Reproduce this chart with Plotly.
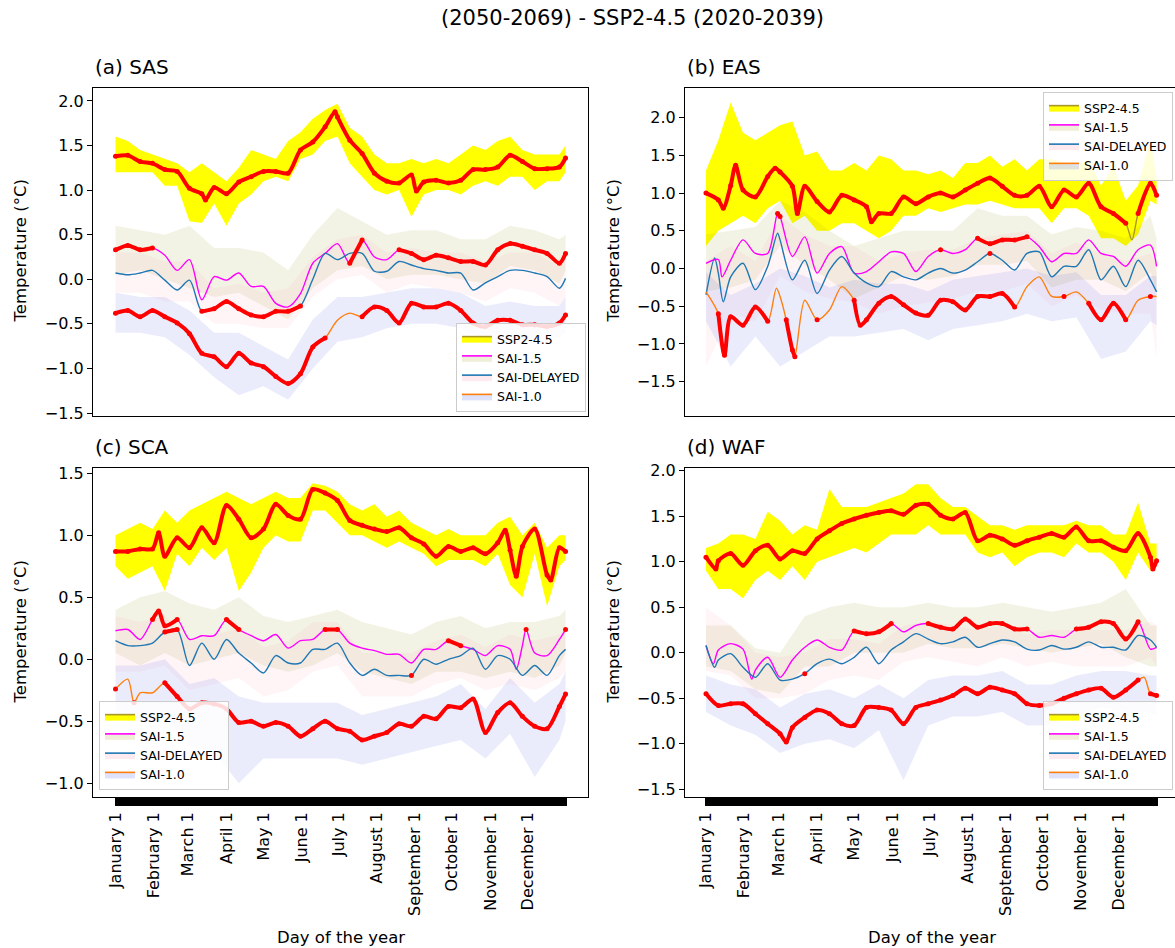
import plotly.graph_objects as go

W, H = 1175, 948

# ---------------- shared categories / labels ----------------
DAYS = list(range(0, 361, 10)) + [365]
BAND_DAYS = list(range(0, 361, 20)) + [365]

MONTH_DAYS = [0, 31, 59, 90, 120, 151, 181, 212, 243, 273, 304, 334]
MONTH_LABELS = ["January 1", "February 1", "March 1", "April 1", "May 1", "June 1",
                "July 1", "August 1", "September 1", "October 1", "November 1", "December 1"]

SERIES_NAMES = ["SSP2-4.5", "SAI-1.5", "SAI-DELAYED", "SAI-1.0"]
PANEL_TITLES = ["(a) SAS", "(b) EAS", "(c) SCA", "(d) WAF"]
SUPTITLE = "(2050-2069) - SSP2-4.5 (2020-2039)"
Y_TITLE = "Temperature (°C)"
X_TITLE = "Day of the year"

# ---------------- (a) SAS ----------------
SAS_SSP_X = [0, 10, 20, 30, 40, 50, 60, 70, 73, 80, 90, 100, 110, 120, 130, 140, 150, 160, 170, 178,
             180, 190, 200, 210, 220, 230, 240, 244, 250, 260, 270, 280, 290, 300, 310, 320, 330, 340,
             350, 360, 365]
SAS_SSP_Y = [1.38, 1.39, 1.32, 1.30, 1.23, 1.21, 1.02, 0.96, 0.89, 1.03, 0.96, 1.09, 1.15, 1.21, 1.21,
             1.19, 1.45, 1.54, 1.71, 1.88, 1.82, 1.56, 1.41, 1.19, 1.10, 1.08, 1.17, 0.99, 1.09, 1.11,
             1.08, 1.11, 1.23, 1.23, 1.26, 1.39, 1.32, 1.24, 1.24, 1.26, 1.36]
SAS_SSP_LO = [1.20, 1.20, 1.20, 1.20, 1.05, 1.05, 0.65, 0.63, 0.85, 0.60, 0.85, 0.95, 1.10, 1.15, 1.10,
              1.35, 1.40, 1.55, 1.60, 1.30, 1.15, 1.00, 0.95, 1.00, 0.70, 0.95, 1.00, 1.00, 0.95, 1.05,
              1.10, 1.05, 1.15, 1.15, 1.00, 1.10, 1.10, 1.20]
SAS_SSP_HI = [1.60, 1.55, 1.45, 1.40, 1.35, 1.30, 1.20, 1.30, 1.20, 1.10, 1.25, 1.45, 1.40, 1.35, 1.55,
              1.65, 1.80, 1.90, 1.97, 1.70, 1.60, 1.40, 1.30, 1.30, 1.35, 1.30, 1.35, 1.30, 1.40, 1.50,
              1.45, 1.55, 1.60, 1.45, 1.40, 1.40, 1.40, 1.50]
SAS_S15 = [0.33, 0.38, 0.33, 0.35, 0.27, 0.10, 0.22, -0.23, 0.03, -0.01, 0.07, -0.08, -0.08, -0.27,
           -0.31, -0.16, 0.18, 0.29, 0.40, 0.18, 0.44, 0.25, 0.22, 0.33, 0.29, 0.22, 0.27, 0.24, 0.20,
           0.20, 0.16, 0.33, 0.40, 0.37, 0.33, 0.29, 0.18, 0.29]
SAS_DEL = [0.07, 0.05, 0.07, 0.10, -0.01, -0.12, -0.01, -0.36, -0.33, -0.25, -0.33, -0.40, -0.42,
           -0.36, -0.36, -0.30, 0.00, 0.29, 0.22, 0.29, 0.29, 0.09, 0.09, 0.20, 0.16, 0.12, 0.10, 0.07,
           0.07, -0.12, -0.04, 0.03, 0.10, 0.10, 0.07, 0.03, -0.10, 0.01]
SAS_S10 = [-0.38, -0.35, -0.42, -0.35, -0.42, -0.49, -0.61, -0.83, -0.87, -0.98, -0.83, -0.94, -0.98,
           -1.09, -1.17, -1.06, -0.76, -0.66, -0.46, -0.38, -0.42, -0.31, -0.35, -0.49, -0.27, -0.31,
           -0.31, -0.27, -0.35, -0.49, -0.53, -0.46, -0.46, -0.51, -0.51, -0.53, -0.49, -0.40]
SAS_S15_HI = [0.6, 0.55, 0.5, 0.6, 0.35, 0.35, 0.3, 0.1, 0.5, 0.8, 0.65, 0.5, 0.55, 0.55, 0.45, 0.45, 0.6, 0.55, 0.45, 0.5]
SAS_S15_LO = [0.05, 0.1, 0.0, -0.1, -0.2, -0.15, -0.3, -0.45, -0.1, 0.1, 0.15, 0.0, 0.05, 0.05, 0.0, -0.05, 0.15, 0.1, -0.05, 0.1]
SAS_DEL_HI = [0.3, 0.3, 0.2, 0.2, -0.1, -0.05, -0.15, -0.1, 0.25, 0.45, 0.5, 0.3, 0.35, 0.3, 0.3, 0.2, 0.3, 0.3, 0.15, 0.25]
SAS_DEL_LO = [-0.15, -0.15, -0.25, -0.25, -0.5, -0.5, -0.55, -0.55, -0.2, 0.0, 0.05, -0.15, -0.05, -0.1, -0.15, -0.25, -0.1, -0.15, -0.3, -0.2]
SAS_S10_HI = [-0.15, -0.2, -0.2, -0.35, -0.6, -0.6, -0.75, -0.9, -0.45, -0.2, -0.2, -0.15, -0.1, -0.1, -0.15, -0.3, -0.25, -0.3, -0.3, -0.2]
SAS_S10_LO = [-0.6, -0.6, -0.65, -0.85, -1.1, -1.3, -1.2, -1.35, -1.0, -0.7, -0.65, -0.55, -0.5, -0.5, -0.55, -0.7, -0.65, -0.7, -0.65, -0.6]
SAS_SSP_SIG = [[0, 365]]
SAS_S15_SIG = [[0, 35], [185, 205], [225, 280], [290, 365]]
SAS_DEL_SIG = [[3, 8], [65, 155]]
SAS_S10_SIG = [[0, 176], [198, 365]]

# ---------------- (b) EAS ----------------
EAS_SSP_X = [0, 10, 14, 20, 24, 30, 40, 50, 56, 60, 70, 74, 80, 90, 100, 110, 120, 130, 134, 140, 150,
             160, 170, 180, 190, 200, 210, 220, 230, 240, 250, 260, 270, 280, 290, 300, 310, 320, 330,
             340, 345, 350, 360, 365]
EAS_SSP_Y = [1.00, 0.91, 0.80, 1.10, 1.37, 1.04, 0.95, 1.22, 1.33, 1.28, 1.09, 0.73, 1.09, 0.89, 0.75,
             0.97, 0.91, 0.82, 0.62, 0.73, 0.73, 0.95, 0.86, 0.95, 1.00, 0.95, 1.04, 1.13, 1.20, 1.09,
             0.97, 0.97, 1.09, 0.82, 1.04, 0.95, 1.13, 0.82, 0.73, 0.60, 0.38, 0.73, 1.13, 0.97]
EAS_SSP_LO = [0.3, 0.5, 0.6, 0.7, 0.6, 0.8, 0.9, 0.6, 0.7, 0.5, 0.5, 0.6, 0.6, 0.5, 0.4, 0.5, 0.7, 0.7,
              0.8, 0.75, 0.8, 0.85, 0.85, 0.9, 0.85, 0.8, 0.8, 0.8, 0.6, 0.8, 0.8, 0.7, 0.4, 0.4, 0.3,
              0.45, 0.9, 0.85]
EAS_SSP_HI = [1.3, 1.7, 2.2, 1.8, 1.7, 1.8, 1.9, 1.95, 1.5, 1.55, 1.3, 1.3, 1.4, 1.3, 1.5, 1.45, 1.3,
              1.3, 1.25, 1.3, 1.2, 1.4, 1.4, 1.5, 1.35, 1.45, 1.3, 1.45, 1.45, 1.4, 1.35, 1.45, 1.1,
              1.35, 0.9, 1.1, 1.7, 1.2]
EAS_S15_X = [0, 10, 13, 20, 30, 40, 50, 58, 60, 70, 80, 90, 100, 110, 120, 130, 140, 150, 160, 170, 180,
             190, 200, 210, 220, 230, 240, 250, 260, 270, 280, 290, 300, 310, 320, 330, 340, 350, 360, 365]
EAS_S15_Y = [0.07, 0.12, -0.11, 0.11, 0.38, 0.20, 0.20, 0.73, 0.69, 0.16, 0.42, -0.06, 0.20, 0.29, -0.06,
             -0.04, 0.09, 0.22, 0.20, -0.04, 0.16, 0.25, 0.20, 0.25, 0.40, 0.33, 0.38, 0.38, 0.42, 0.29,
             0.09, 0.20, 0.20, 0.38, 0.20, 0.16, 0.03, 0.25, 0.31, 0.03]
EAS_DEL_X = [0, 7, 10, 14, 20, 30, 40, 50, 58, 60, 70, 80, 90, 100, 110, 120, 130, 140, 150, 160, 170,
             180, 190, 200, 210, 220, 230, 240, 250, 260, 270, 280, 290, 300, 310, 320, 330, 340, 350,
             360, 365]
EAS_DEL_Y = [-0.35, 0.14, -0.06, -0.44, -0.11, 0.07, -0.28, 0.03, 0.47, 0.38, -0.15, 0.11, -0.33, -0.02,
             0.16, -0.06, -0.19, -0.24, -0.04, -0.11, -0.15, -0.06, 0.00, -0.06, -0.02, 0.09, 0.20, 0.11,
             -0.02, 0.20, 0.22, -0.11, 0.03, 0.03, 0.25, -0.15, 0.03, -0.24, 0.11, -0.15, -0.31]
EAS_S10_X = [0, 10, 15, 20, 30, 40, 50, 57, 60, 65, 70, 72, 80, 90, 100, 110, 120, 125, 130, 140, 150,
             160, 170, 180, 190, 200, 210, 220, 230, 240, 250, 260, 270, 280, 290, 300, 310, 320, 330,
             340, 350, 360, 365]
EAS_S10_Y = [-0.31, -0.60, -1.15, -0.64, -0.75, -0.51, -0.70, -0.26, -0.37, -0.68, -1.08, -1.17, -0.42,
             -0.68, -0.55, -0.24, -0.42, -0.75, -0.68, -0.46, -0.37, -0.48, -0.59, -0.62, -0.42, -0.44,
             -0.55, -0.37, -0.37, -0.33, -0.51, -0.24, -0.11, -0.37, -0.37, -0.31, -0.46, -0.68, -0.46,
             -0.68, -0.42, -0.37, -0.37]
EAS_S15_HI = [0.45, 0.5, 0.55, 0.9, 0.75, 0.5, 0.3, 0.4, 0.5, 0.5, 0.5, 0.8, 0.7, 0.7, 0.45, 0.55, 0.5, 0.4, 0.7, 0.4]
EAS_S15_LO = [-0.3, -0.25, -0.15, 0.3, 0.05, -0.15, -0.4, -0.25, -0.1, -0.15, -0.1, 0.05, 0.05, 0.1, -0.25, -0.15, -0.15, -0.3, -0.05, -0.3]
EAS_DEL_HI = [0.1, 0.3, 0.1, 0.7, 0.45, 0.3, 0.3, 0.1, 0.2, 0.25, 0.25, 0.4, 0.45, 0.5, 0.2, 0.35, 0.2, 0.1, 0.2, 0.05]
EAS_DEL_LO = [-1.3, -0.6, -0.7, -0.1, -0.3, -0.4, -0.45, -0.6, -0.5, -0.45, -0.4, -0.3, -0.3, -0.2, -0.5, -0.35, -0.55, -0.6, -0.6, -1.2]
EAS_S10_HI = [-0.05, -0.35, -0.2, 0.0, -0.1, -0.25, -0.15, -0.2, -0.2, -0.3, -0.15, -0.1, -0.05, 0.0, -0.1, -0.05, -0.35, -0.35, -0.1, -0.1]
EAS_S10_LO = [-0.7, -1.3, -0.9, -1.3, -1.1, -0.9, -0.9, -0.85, -0.8, -0.95, -0.8, -0.75, -0.7, -0.6, -0.7, -0.65, -1.2, -1.1, -0.7, -0.75]
EAS_SSP_SIG = [[0, 340], [350, 365]]
EAS_S15_SIG = [[55, 63], [182, 192], [217, 260]]
EAS_DEL_SIG = [[228, 236]]
EAS_S10_SIG = [[10, 24], [28, 50], [64, 78], [88, 92], [120, 240], [247, 252], [282, 290], [310, 322],
               [328, 340], [352, 362]]

# ---------------- (c) SCA ----------------
SCA_SSP_X = [0, 10, 20, 30, 35, 40, 50, 60, 70, 80, 90, 100, 110, 120, 130, 140, 150, 160, 170, 180, 190,
             200, 210, 220, 230, 240, 250, 260, 270, 280, 290, 300, 310, 316, 320, 325, 330, 340, 350,
             353, 360, 365]
SCA_SSP_Y = [0.87, 0.87, 0.89, 0.89, 1.02, 0.83, 0.98, 0.90, 1.06, 0.94, 1.24, 1.13, 0.98, 1.05, 1.25,
             1.16, 1.13, 1.37, 1.34, 1.28, 1.12, 1.08, 1.05, 1.03, 1.06, 0.98, 0.93, 0.83, 0.91, 0.87,
             0.90, 0.85, 0.94, 1.04, 0.88, 0.67, 0.91, 1.05, 0.68, 0.64, 0.90, 0.87]
SCA_SSP_LO = [0.75, 0.65, 0.70, 0.75, 0.55, 0.85, 0.75, 0.90, 0.80, 0.90, 0.55, 0.70, 0.90, 1.00, 0.95,
              0.95, 1.20, 1.20, 1.10, 1.00, 1.00, 0.95, 0.90, 0.95, 0.90, 0.85, 0.75, 0.80, 0.80, 0.80,
              0.75, 0.85, 0.60, 0.50, 0.85, 0.43, 0.75, 0.80]
SCA_SSP_HI = [1.00, 1.05, 1.10, 1.05, 1.20, 1.10, 1.20, 1.25, 1.30, 1.35, 1.30, 1.25, 1.30, 1.35, 1.30,
              1.30, 1.42, 1.40, 1.35, 1.25, 1.20, 1.25, 1.15, 1.20, 1.10, 1.05, 1.00, 1.05, 1.00, 1.00,
              1.00, 1.10, 1.15, 1.00, 1.10, 0.90, 1.00, 1.00]
SCA_S15_X = [0, 10, 20, 30, 35, 40, 50, 60, 70, 80, 90, 100, 110, 120, 130, 140, 150, 160, 170, 180, 190,
             200, 210, 220, 230, 240, 250, 260, 270, 280, 290, 300, 310, 320, 325, 330, 333, 340, 350,
             360, 365]
SCA_S15_Y = [0.23, 0.24, 0.16, 0.32, 0.39, 0.27, 0.32, 0.16, 0.19, 0.19, 0.32, 0.24, 0.19, 0.15, 0.20,
             0.09, 0.15, 0.16, 0.24, 0.24, 0.13, 0.09, 0.07, 0.04, 0.04, -0.03, 0.08, 0.08, 0.15, 0.11,
             0.08, 0.03, 0.11, 0.08, -0.08, 0.11, 0.24, 0.05, 0.03, 0.16, 0.24]
SCA_DEL = [0.15, 0.11, 0.11, 0.13, 0.22, 0.24, -0.05, 0.13, 0.00, 0.16, 0.05, -0.03, -0.11, 0.03, -0.03,
           -0.03, 0.08, 0.08, 0.13, -0.03, -0.13, -0.08, -0.13, -0.13, -0.13, 0.00, -0.04, 0.00, 0.03,
           0.09, -0.08, 0.03, 0.00, -0.13, -0.05, -0.13, 0.03, 0.08]
SCA_S10_X = [0, 10, 15, 20, 30, 40, 50, 60, 70, 80, 90, 100, 110, 120, 130, 140, 150, 160, 170, 180, 190,
             200, 210, 220, 230, 240, 250, 260, 270, 280, 290, 300, 310, 320, 330, 340, 350, 360, 365]
SCA_S10_Y = [-0.24, -0.16, -0.35, -0.27, -0.27, -0.19, -0.30, -0.40, -0.35, -0.36, -0.40, -0.51, -0.50,
             -0.54, -0.51, -0.54, -0.62, -0.56, -0.50, -0.56, -0.58, -0.65, -0.62, -0.59, -0.52, -0.54,
             -0.46, -0.48, -0.38, -0.39, -0.32, -0.59, -0.43, -0.35, -0.46, -0.54, -0.56, -0.38, -0.28]
SCA_S15_HI = [0.4, 0.5, 0.55, 0.45, 0.4, 0.5, 0.35, 0.3, 0.35, 0.4, 0.3, 0.25, 0.2, 0.3, 0.35, 0.25, 0.3, 0.3, 0.35, 0.4]
SCA_S15_LO = [0.05, -0.05, 0.05, -0.05, 0.0, 0.05, -0.05, -0.1, -0.05, 0.05, -0.1, -0.15, -0.2, -0.1, -0.1, -0.15, -0.1, -0.15, -0.05, 0.05]
SCA_DEL_HI = [0.35, 0.3, 0.35, 0.15, 0.2, 0.25, 0.1, 0.15, 0.3, 0.3, 0.05, 0.05, 0.05, 0.15, 0.2, 0.1, 0.2, 0.15, 0.2, 0.25]
SCA_DEL_LO = [-0.1, -0.1, -0.05, -0.25, -0.2, -0.15, -0.3, -0.25, -0.1, -0.05, -0.3, -0.3, -0.3, -0.2, -0.15, -0.25, -0.2, -0.25, -0.15, -0.1]
SCA_S10_HI = [-0.05, -0.05, 0.0, -0.2, -0.15, -0.3, -0.35, -0.35, -0.35, -0.35, -0.45, -0.4, -0.35, -0.3, -0.2, -0.4, -0.15, -0.35, -0.2, -0.1]
SCA_S10_LO = [-0.45, -0.5, -0.45, -0.7, -0.75, -1.0, -0.8, -0.8, -0.8, -0.8, -0.85, -0.8, -0.75, -0.7, -0.65, -0.8, -0.6, -0.95, -0.65, -0.5]
SCA_SSP_SIG = [[0, 365]]
SCA_S15_SIG = [[24, 55], [85, 91], [100, 107], [163, 180], [264, 270], [278, 282], [331, 336], [362, 365]]
SCA_DEL_SIG = [[35, 52], [238, 242]]
SCA_S10_SIG = [[0, 6], [13, 18], [40, 44], [48, 352], [358, 365]]

# ---------------- (d) WAF ----------------
WAF_SSP_X = [0, 8, 10, 20, 30, 40, 50, 60, 70, 80, 90, 100, 110, 120, 130, 140, 150, 160, 170, 180, 190,
             200, 210, 220, 230, 240, 250, 260, 270, 280, 290, 300, 310, 320, 330, 340, 350, 360, 362, 365]
WAF_SSP_Y = [1.05, 0.92, 1.01, 1.09, 0.96, 1.12, 1.18, 1.03, 1.12, 1.09, 1.25, 1.34, 1.42, 1.47, 1.51,
             1.54, 1.56, 1.52, 1.62, 1.63, 1.51, 1.47, 1.54, 1.23, 1.29, 1.25, 1.18, 1.23, 1.27, 1.31,
             1.27, 1.38, 1.23, 1.23, 1.16, 1.12, 1.31, 1.05, 0.92, 1.01]
WAF_SSP_LO = [0.90, 0.70, 0.70, 0.60, 0.80, 0.90, 0.80, 0.95, 0.80, 1.00, 1.05, 1.10, 1.15, 1.10, 1.20,
              1.30, 1.30, 1.30, 1.40, 1.30, 1.30, 1.30, 1.10, 1.05, 1.10, 0.95, 1.05, 1.10, 1.10, 1.05,
              1.20, 1.10, 1.10, 1.00, 0.80, 1.10, 0.90, 0.95]
WAF_SSP_HI = [1.15, 1.20, 1.30, 1.30, 1.25, 1.55, 1.45, 1.30, 1.40, 1.35, 1.80, 1.60, 1.60, 1.60, 1.65,
              1.70, 1.75, 1.85, 1.85, 1.70, 1.60, 1.60, 1.50, 1.40, 1.40, 1.35, 1.40, 1.40, 1.40, 1.40,
              1.45, 1.40, 1.40, 1.30, 1.30, 1.65, 1.20, 1.20]
WAF_S15_X = [0, 6, 10, 20, 30, 37, 40, 50, 60, 70, 80, 90, 100, 110, 120, 130, 140, 150, 160, 170, 180,
             190, 200, 210, 220, 230, 240, 250, 260, 270, 280, 290, 300, 310, 320, 330, 340, 350, 360, 365]
WAF_S15_Y = [0.08, -0.12, 0.03, 0.10, 0.04, -0.29, -0.19, -0.05, -0.27, -0.08, 0.06, 0.14, 0.06, 0.03,
             0.24, 0.21, 0.23, 0.32, 0.23, 0.30, 0.32, 0.28, 0.26, 0.37, 0.28, 0.32, 0.32, 0.26, 0.26,
             0.17, 0.19, 0.17, 0.26, 0.28, 0.34, 0.32, 0.15, 0.34, 0.04, 0.06]
WAF_DEL_X = [0, 7, 10, 20, 30, 40, 50, 60, 70, 80, 90, 100, 110, 120, 130, 140, 150, 160, 170, 180, 190,
             200, 210, 220, 230, 240, 250, 260, 270, 280, 290, 300, 310, 320, 330, 340, 350, 360, 365]
WAF_DEL_Y = [0.08, -0.16, -0.08, -0.01, -0.16, -0.27, -0.12, -0.30, -0.29, -0.23, -0.12, -0.07, -0.12,
             -0.05, 0.06, -0.12, 0.03, 0.12, 0.21, 0.15, 0.10, 0.12, 0.17, 0.06, 0.10, 0.14, 0.12, 0.04,
             0.03, 0.08, 0.04, 0.06, 0.12, 0.06, 0.06, 0.03, 0.19, 0.14, 0.06]
WAF_S10_X = [0, 10, 20, 30, 40, 50, 60, 65, 70, 80, 90, 100, 110, 120, 130, 140, 150, 160, 170, 180, 190,
             200, 210, 220, 230, 240, 250, 260, 270, 280, 290, 300, 310, 320, 330, 340, 350, 355, 360, 365]
WAF_S10_Y = [-0.45, -0.58, -0.56, -0.56, -0.67, -0.78, -0.89, -0.98, -0.82, -0.71, -0.63, -0.67, -0.78,
             -0.80, -0.60, -0.60, -0.63, -0.78, -0.60, -0.56, -0.52, -0.47, -0.39, -0.45, -0.38, -0.41,
             -0.45, -0.56, -0.58, -0.56, -0.50, -0.45, -0.41, -0.39, -0.49, -0.41, -0.30, -0.27, -0.45,
             -0.47]
WAF_S15_HI = [0.3, 0.3, 0.05, 0.0, 0.4, 0.5, 0.55, 0.5, 0.5, 0.55, 0.5, 0.5, 0.55, 0.5, 0.45, 0.5, 0.55, 0.7, 0.3, 0.3]
WAF_S15_LO = [-0.15, -0.2, -0.4, -0.45, -0.15, -0.15, 0.0, 0.0, 0.0, 0.1, 0.05, 0.05, 0.1, 0.05, 0.0, 0.05, 0.1, -0.05, -0.15, -0.15]
WAF_DEL_HI = [0.5, 0.3, 0.0, -0.05, 0.0, 0.15, 0.15, 0.1, 0.3, 0.35, 0.3, 0.25, 0.3, 0.2, 0.25, 0.25, 0.25, 0.25, 0.35, 0.3]
WAF_DEL_LO = [-0.2, -0.25, -0.5, -0.5, -0.45, -0.3, -0.25, -0.3, -0.1, -0.05, -0.1, -0.15, -0.05, -0.15, -0.1, -0.15, -0.15, -0.15, -0.05, -0.15]
WAF_S10_HI = [-0.25, -0.35, -0.4, -0.6, -0.45, -0.4, -0.5, -0.35, -0.5, -0.3, -0.25, -0.25, -0.2, -0.35, -0.35, -0.25, -0.2, -0.2, -0.25, -0.25]
WAF_S10_LO = [-0.65, -0.8, -0.9, -1.1, -1.0, -0.95, -1.05, -0.85, -1.4, -0.8, -0.7, -0.7, -0.65, -0.8, -0.8, -0.7, -0.6, -0.65, -0.65, -0.7]
WAF_SSP_SIG = [[0, 365]]
WAF_S15_SIG = [[119, 131], [138, 152], [175, 262], [293, 358]]
WAF_DEL_SIG = [[75, 80], [135, 138], [243, 247]]
WAF_S10_SIG = [[0, 352], [360, 365]]

PANELS = [
    dict(ssp=(SAS_SSP_X, SAS_SSP_Y, SAS_SSP_SIG), s15=(DAYS, SAS_S15, SAS_S15_SIG),
         dl=(DAYS, SAS_DEL, SAS_DEL_SIG), s10=(DAYS, SAS_S10, SAS_S10_SIG),
         ssp_band=(SAS_SSP_LO, SAS_SSP_HI), s15_band=(SAS_S15_LO, SAS_S15_HI),
         dl_band=(SAS_DEL_LO, SAS_DEL_HI), s10_band=(SAS_S10_LO, SAS_S10_HI)),
    dict(ssp=(EAS_SSP_X, EAS_SSP_Y, EAS_SSP_SIG), s15=(EAS_S15_X, EAS_S15_Y, EAS_S15_SIG),
         dl=(EAS_DEL_X, EAS_DEL_Y, EAS_DEL_SIG), s10=(EAS_S10_X, EAS_S10_Y, EAS_S10_SIG),
         ssp_band=(EAS_SSP_LO, EAS_SSP_HI), s15_band=(EAS_S15_LO, EAS_S15_HI),
         dl_band=(EAS_DEL_LO, EAS_DEL_HI), s10_band=(EAS_S10_LO, EAS_S10_HI)),
    dict(ssp=(SCA_SSP_X, SCA_SSP_Y, SCA_SSP_SIG), s15=(SCA_S15_X, SCA_S15_Y, SCA_S15_SIG),
         dl=(DAYS, SCA_DEL, SCA_DEL_SIG), s10=(SCA_S10_X, SCA_S10_Y, SCA_S10_SIG),
         ssp_band=(SCA_SSP_LO, SCA_SSP_HI), s15_band=(SCA_S15_LO, SCA_S15_HI),
         dl_band=(SCA_DEL_LO, SCA_DEL_HI), s10_band=(SCA_S10_LO, SCA_S10_HI)),
    dict(ssp=(WAF_SSP_X, WAF_SSP_Y, WAF_SSP_SIG), s15=(WAF_S15_X, WAF_S15_Y, WAF_S15_SIG),
         dl=(WAF_DEL_X, WAF_DEL_Y, WAF_DEL_SIG), s10=(WAF_S10_X, WAF_S10_Y, WAF_S10_SIG),
         ssp_band=(WAF_SSP_LO, WAF_SSP_HI), s15_band=(WAF_S15_LO, WAF_S15_HI),
         dl_band=(WAF_DEL_LO, WAF_DEL_HI), s10_band=(WAF_S10_LO, WAF_S10_HI)),
]

# ---------------- styles ----------------
KEYS = ["ssp", "s15", "dl", "s10"]
LINE_COLORS = {"ssp": "#a8962a", "s15": "#ff00ff", "dl": "#1f77b4", "s10": "#ff7f0e"}
BAND_FILL = {"ssp": "#ffff00", "s15": "rgba(150,150,20,0.11)",
             "dl": "rgba(255,110,140,0.07)", "s10": "rgba(90,110,230,0.13)"}
LEGEND_FILL = {"ssp": "#ffff00", "s15": "rgba(150,150,20,0.16)",
               "dl": "rgba(255,110,140,0.14)", "s10": "rgba(90,110,230,0.20)"}
RED = "#ff0000"
FONT = "DejaVu Sans"

LEFT_DOM = [93 / W, 588 / W]
RIGHT_DOM = [685 / W, 1.0]
TOP_DOM = [1 - 415.5 / H, 1 - 87.5 / H]
BOT_DOM = [1 - 796.7 / H, 1 - 468.3 / H]
XR_LEFT = [-18.25, 383.2]
XR_RIGHT = [-17.0, 379.9]
YRANGES = [[-1.528, 2.151], [-1.948, 2.400], [-1.108, 1.540], [-1.581, 2.026]]


def sig_mask(xs, ranges):
    return [any(a <= d <= b for a, b in ranges) for d in xs]


fig = go.Figure()
for k, p in enumerate(PANELS):
    s = "" if k == 0 else str(k + 1)
    xr, yr = "x" + s, "y" + s
    leg = "legend" + s
    # shaded spread bands
    for key in KEYS:
        bx = DAYS if key == "ssp" else BAND_DAYS
        lo, hi = p[key + "_band"]
        assert len(lo) == len(bx) and len(hi) == len(bx), (k, key)
        fig.add_trace(go.Scatter(x=list(bx) + list(bx)[::-1], y=list(hi) + list(lo)[::-1],
                                 mode="lines", fill="toself", fillcolor=BAND_FILL[key],
                                 line=dict(width=0), hoverinfo="skip", showlegend=False,
                                 xaxis=xr, yaxis=yr))
    # mean lines
    for key in KEYS:
        xs, ys, _ = p[key]
        assert len(xs) == len(ys), (k, key, len(xs), len(ys))
        fig.add_trace(go.Scatter(x=xs, y=ys, mode="lines",
                                 line=dict(color=LINE_COLORS[key], width=1.4, shape="spline", smoothing=0.8),
                                 hoverinfo="skip", showlegend=False, xaxis=xr, yaxis=yr))
    # significant parts (red dots)
    for key in KEYS:
        xs, ys, sig = p[key]
        m = sig_mask(xs, sig)
        ysig = [y if f else None for y, f in zip(ys, m)]
        fig.add_trace(go.Scatter(x=xs, y=ysig, mode="lines+markers", connectgaps=False,
                                 line=dict(color=RED, width=4, shape="spline", smoothing=0.8),
                                 marker=dict(color=RED, size=5),
                                 hoverinfo="skip", showlegend=False, xaxis=xr, yaxis=yr))
    # legend entries
    for j, key in enumerate(KEYS):
        fig.add_trace(go.Scatter(x=[None], y=[None], mode="lines", fill="toself",
                                 fillcolor=LEGEND_FILL[key],
                                 line=dict(color=LINE_COLORS[key], width=1.6),
                                 name=SERIES_NAMES[j], legend=leg, showlegend=True,
                                 xaxis=xr, yaxis=yr))

tick_vals = list(range(0, 366))
tick_text = [MONTH_LABELS[MONTH_DAYS.index(d)] if d in MONTH_DAYS else "" for d in tick_vals]

layout = dict(width=W, height=H, margin=dict(l=0, r=0, t=0, b=0),
              paper_bgcolor="white", plot_bgcolor="white",
              font=dict(family=FONT, color="black", size=16))
for k in range(4):
    s = "" if k == 0 else str(k + 1)
    left = k in (0, 2)
    bottom = k in (2, 3)
    xa = dict(domain=LEFT_DOM if left else RIGHT_DOM, range=XR_LEFT if left else XR_RIGHT,
              anchor="y" + s, showline=True, linecolor="black", linewidth=1.2, mirror=True,
              showgrid=False, zeroline=False, automargin=False)
    if bottom:
        xa.update(tickmode="array", tickvals=tick_vals, ticktext=tick_text, ticks="outside",
                  ticklen=8, tickwidth=2.2, tickcolor="black", tickangle=-90,
                  tickfont=dict(size=16, family=FONT, color="black"))
    else:
        xa.update(showticklabels=False, ticks="")
    ya = dict(domain=TOP_DOM if k < 2 else BOT_DOM, range=YRANGES[k], anchor="x" + s,
              showline=True, linecolor="black", linewidth=1.2, mirror=left,
              ticks="outside", ticklen=5, tickwidth=1.2, tickcolor="black",
              tick0=0, dtick=0.5, tickformat=".1f",
              tickfont=dict(size=16, family=FONT, color="black"),
              showgrid=False, zeroline=False, automargin=False)
    layout["xaxis" + s] = xa
    layout["yaxis" + s] = ya

leg_common = dict(bgcolor="rgba(255,255,255,0.85)", bordercolor="#cccccc", borderwidth=1,
                  font=dict(size=12.5, family=FONT, color="black"), itemwidth=30,
                  tracegroupgap=0, xref="paper", yref="paper")
layout["legend"] = dict(leg_common, x=586 / W, y=1 - 412 / H, xanchor="right", yanchor="bottom")
layout["legend2"] = dict(leg_common, x=1173 / W, y=1 - 92 / H, xanchor="right", yanchor="top")
layout["legend3"] = dict(leg_common, x=99 / W, y=1 - 790 / H, xanchor="left", yanchor="bottom")
layout["legend4"] = dict(leg_common, x=1173 / W, y=1 - 790 / H, xanchor="right", yanchor="bottom")

ann = []
ann.append(dict(text=SUPTITLE, x=632 / W, y=1 - 18 / H, xref="paper", yref="paper",
                xanchor="center", yanchor="middle", showarrow=False,
                font=dict(size=21, family=FONT, color="black")))
title_pos = [(93, 81), (685, 81), (93, 461), (685, 461)]
for k, (tx, ty) in enumerate(title_pos):
    ann.append(dict(text=PANEL_TITLES[k], x=tx / W, y=1 - ty / H, xref="paper", yref="paper",
                    xanchor="left", yanchor="bottom", showarrow=False,
                    font=dict(size=20, family=FONT, color="black")))
for (tx, ty) in [(20, 251.5), (613, 251.5), (20, 632.5), (613, 632.5)]:
    ann.append(dict(text=Y_TITLE, x=tx / W, y=1 - ty / H, xref="paper", yref="paper",
                    xanchor="center", yanchor="middle", textangle=-90, showarrow=False,
                    font=dict(size=16.5, family=FONT, color="black")))
for tx in (340.5, 932):
    ann.append(dict(text=X_TITLE, x=tx / W, y=1 - 937 / H, xref="paper", yref="paper",
                    xanchor="center", yanchor="middle", showarrow=False,
                    font=dict(size=16.5, family=FONT, color="black")))
layout["annotations"] = ann

fig.update_layout(**layout)
fig.write_html("out.html")
